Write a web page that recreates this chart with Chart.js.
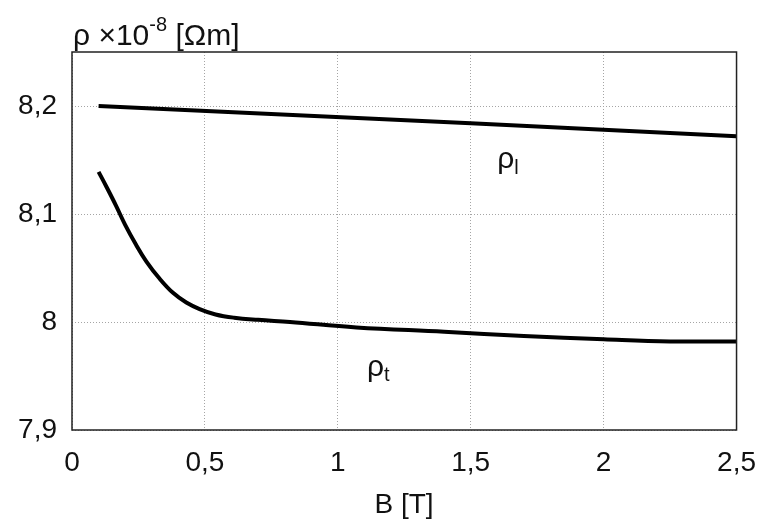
<!DOCTYPE html>
<html>
<head>
<meta charset="utf-8">
<script src="https://cdn.jsdelivr.net/npm/chart.js@4"></script>
<style>
  html, body { margin: 0; padding: 0; background: #fff; }
  #wrap { width: 772px; height: 519px; }
</style>
</head>
<body>
<div id="wrap"><canvas id="myChart" width="772" height="519"></canvas></div>
<script>
// longitudinal resistivity rho_l
const bLong = [0.1, 1.5, 2.5];
const rhoLong = [8.200, 8.184, 8.172];

// transverse resistivity rho_t
const bTrans = [0.1, 0.13, 0.165, 0.2, 0.24, 0.28, 0.33, 0.38, 0.43, 0.48, 0.54, 0.61, 0.7, 0.82, 1.07, 1.4, 1.7, 2.0, 2.25, 2.5];
const rhoTrans = [8.139, 8.125, 8.108, 8.090, 8.072, 8.056, 8.040, 8.027, 8.018, 8.012, 8.007, 8.004, 8.002, 8.000, 7.995, 7.991, 7.987, 7.984, 7.982, 7.982];

const xTicks = [0, 0.5, 1, 1.5, 2, 2.5];
const yTicks = [7.9, 8.0, 8.1, 8.2];

const FONT = '"Liberation Sans", Arial, sans-serif';

function comma(v) {
  return String(Number(v.toFixed(2))).replace('.', ',');
}

function toPoints(xs, ys) {
  return xs.map((x, i) => ({ x: x, y: ys[i] }));
}

// frame, axis titles and curve labels
const textPlugin = {
  id: 'texts',
  afterDraw(chart) {
    const ctx = chart.ctx;
    const a = chart.chartArea;
    const xs = chart.scales.x, ys = chart.scales.y;
    ctx.save();
    ctx.strokeStyle = '#222';
    ctx.lineWidth = 1.5;
    ctx.strokeRect(a.left, a.top, a.right - a.left, a.bottom - a.top);

    ctx.fillStyle = '#111';
    ctx.textBaseline = 'alphabetic';
    ctx.textAlign = 'left';

    // y axis title
    let x = 73;
    ctx.font = '30px ' + FONT;
    ctx.fillText('ρ ×10', x, 45);
    x += ctx.measureText('ρ ×10').width;
    ctx.font = '20px ' + FONT;
    ctx.fillText('-8', x, 31);
    x += ctx.measureText('-8').width;
    ctx.font = '30px ' + FONT;
    ctx.fillText(' [Ωm]', x, 45);

    // x axis title
    ctx.textAlign = 'center';
    ctx.font = '28px ' + FONT;
    ctx.fillText('B [T]', 404, 513);

    // curve labels
    ctx.textAlign = 'left';
    const labels = [
      { b: 1.6, v: 8.143, sub: 'l', dy: 6 },
      { b: 1.11, v: 7.950, sub: 't', dy: 5 }
    ];
    labels.forEach(l => {
      const px = xs.getPixelForValue(l.b);
      const py = ys.getPixelForValue(l.v);
      ctx.font = '30px ' + FONT;
      ctx.fillText('ρ', px, py);
      const w = ctx.measureText('ρ').width;
      ctx.font = '20px ' + FONT;
      ctx.fillText(l.sub, px + w, py + l.dy);
    });
    ctx.restore();
  }
};

const chart = new Chart(document.getElementById('myChart'), {
  type: 'line',
  data: {
    datasets: [
      {
        label: 'ρl',
        data: toPoints(bLong, rhoLong),
        borderColor: '#000',
        borderWidth: 4,
        pointRadius: 0,
        tension: 0
      },
      {
        label: 'ρt',
        data: toPoints(bTrans, rhoTrans),
        borderColor: '#000',
        borderWidth: 4,
        pointRadius: 0,
        tension: 0.4
      }
    ]
  },
  options: {
    responsive: false,
    animation: false,
    layout: { padding: { top: 52, right: 25, left: 0, bottom: 0 } },
    plugins: {
      legend: { display: false },
      tooltip: { enabled: false }
    },
    scales: {
      x: {
        type: 'linear',
        min: 0,
        max: 2.5,
        afterBuildTicks: s => { s.ticks = xTicks.map(v => ({ value: v })); },
        afterFit: s => { s.height = 89; },
        border: { display: false },
        grid: { color: '#a5a5a5', lineWidth: 1, drawTicks: false },
        ticks: {
          padding: 16,
          color: '#111',
          font: { family: FONT, size: 28 },
          maxRotation: 0,
          callback: v => comma(v)
        }
      },
      y: {
        min: 7.9,
        max: 8.25,
        afterBuildTicks: s => { s.ticks = yTicks.map(v => ({ value: v })); },
        afterFit: s => { s.width = 72; },
        border: { display: false },
        grid: { color: '#a5a5a5', lineWidth: 1, drawTicks: false },
        ticks: {
          padding: 15,
          color: '#111',
          font: { family: FONT, size: 28 },
          callback: v => comma(v)
        }
      }
    }
  },
  plugins: [textPlugin]
});

// dotted grid lines
chart.options.scales.x.grid.borderDash = [1, 2];
chart.options.scales.y.grid.borderDash = [1, 2];
chart.options.scales.x.border.dash = [1, 2];
chart.options.scales.y.border.dash = [1, 2];
chart.update();
</script>
</body>
</html>
